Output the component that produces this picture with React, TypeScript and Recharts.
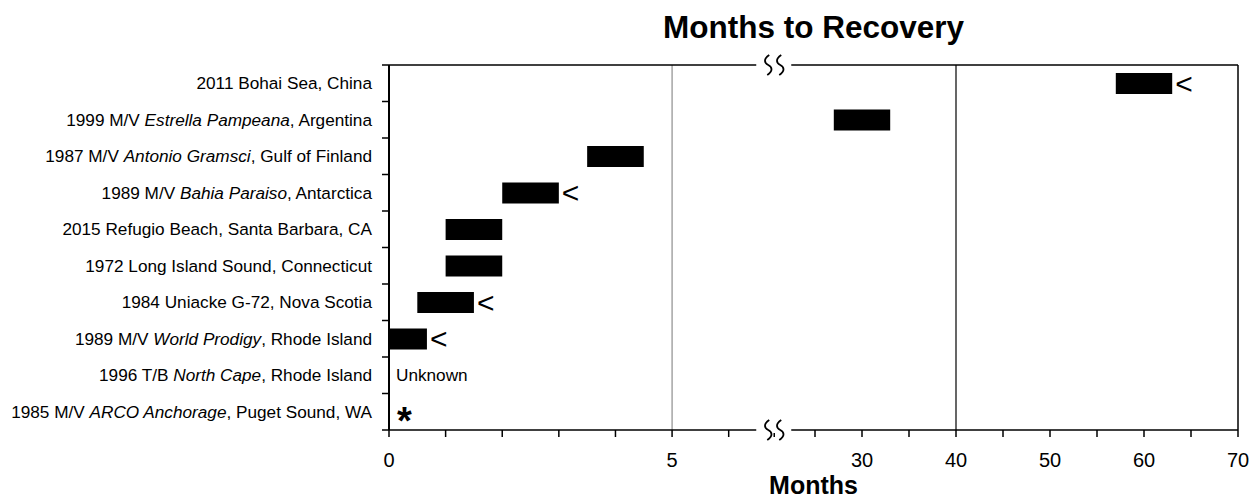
import { BarChart, Bar, XAxis, YAxis, ReferenceLine, ReferenceDot, LabelList } from "recharts";

// spills, top row first
const EVENTS = [
  "2011 Bohai Sea, China",
  "1999 M/V Estrella Pampeana, Argentina",
  "1987 M/V Antonio Gramsci, Gulf of Finland",
  "1989 M/V Bahia Paraiso, Antarctica",
  "2015 Refugio Beach, Santa Barbara, CA",
  "1972 Long Island Sound, Connecticut",
  "1984 Uniacke G-72, Nova Scotia",
  "1989 M/V World Prodigy, Rhode Island",
  "1996 T/B North Cape, Rhode Island",
  "1985 M/V ARCO Anchorage, Puget Sound, WA",
];
// vessel names set in italics
const ITALIC_NAMES = [
  "",
  "Estrella Pampeana",
  "Antonio Gramsci",
  "Bahia Paraiso",
  "",
  "",
  "",
  "World Prodigy",
  "North Cape",
  "ARCO Anchorage",
];
// recovery window in months (null = no bar)
const RECOVERY_FROM = [57, 27, 3.5, 2, 1, 1, 0.5, 0, null, null];
const RECOVERY_TO = [63, 33, 4.5, 3, 2, 2, 1.5, 0.67, null, null];
// "<" : recovery was reached before this time
const LESS_THAN = [true, false, false, true, false, false, true, true, false, false];
const NOTES = ["", "", "", "", "", "", "", "", "Unknown", "*"];

const MAJOR_TICKS = [0, 5, 30, 40, 50, 60, 70];
const MINOR_TICKS = [1, 2, 3, 4, 6, 25, 35, 45, 55, 65];

const FONT = "'Liberation Sans', Arial, Helvetica, sans-serif";
const W = 1252;
const H = 498;
const TOP = 64;
const LEFT = 389;
const RIGHT = 14;
const X_AXIS_H = 68;
const PLOT_H = H - TOP - 1 - X_AXIS_H;
const BAND = PLOT_H / EVENTS.length;
const Y_TICK = 7;
const Y_GAP = 10;
const X_TICK = 7;

// broken axis: months -> axis units; 0–6.5 stretched, 22.5–70 compressed
const SEG_MONTHS = [0, 6.5, 22.5, 70];
const SEG_UNITS = [0, 368, 402.5, 849];

function toAxis(m: number) {
  for (let i = 1; i < SEG_MONTHS.length; i++) {
    if (m <= SEG_MONTHS[i] || i === SEG_MONTHS.length - 1) {
      const t = (m - SEG_MONTHS[i - 1]) / (SEG_MONTHS[i] - SEG_MONTHS[i - 1]);
      return SEG_UNITS[i - 1] + t * (SEG_UNITS[i] - SEG_UNITS[i - 1]);
    }
  }
  return 0;
}

const BREAK_AT = (SEG_UNITS[1] + SEG_UNITS[2]) / 2;
const same = (a: number, b: number) => Math.abs(a - b) < 0.01;

const data = EVENTS.map((name, i) => {
  const from = RECOVERY_FROM[i];
  const to = RECOVERY_TO[i];
  return {
    name,
    range: from != null && to != null ? [toAxis(from), toAxis(to)] : null,
  };
});

// gap in an axis line with two wavy strokes
function BreakMark({ x, y }: { x: number; y: number }) {
  const wave = (cx: number) =>
    `M${cx + 1},${y - 10} C${cx - 5},${y - 6} ${cx - 4},${y - 2} ${cx},${y} C${cx + 4},${y + 2} ${cx + 5},${y + 6} ${cx - 1},${y + 10}`;
  return (
    <g>
      <rect x={x - 18} y={y - 3} width={35} height={6} fill="#fff" />
      <path d={wave(x - 6)} fill="none" stroke="#000" strokeWidth={1.8} />
      <path d={wave(x + 6)} fill="none" stroke="#000" strokeWidth={1.8} />
    </g>
  );
}

function MonthTick(props: any) {
  const { x, y, payload } = props;
  const v = payload.value;
  if (same(v, BREAK_AT)) {
    const axisY = y - X_TICK;
    return (
      <g>
        <BreakMark x={x} y={axisY} />
        <BreakMark x={x} y={axisY - PLOT_H} />
      </g>
    );
  }
  const m = MAJOR_TICKS.find((t) => same(toAxis(t), v));
  if (m === undefined) return <g />;
  return (
    <text x={x} y={y + 30} textAnchor="middle" fontSize={20} fontFamily={FONT} fill="#000">
      {m}
    </text>
  );
}

function EventTick(props: any) {
  const { x, y, payload } = props;
  const name: string = payload.value;
  const i = EVENTS.indexOf(name);
  const it = ITALIC_NAMES[i] || "";
  const k = it ? name.indexOf(it) : -1;
  const axisX = x + Y_TICK + Y_GAP;
  const top = y - BAND / 2;
  return (
    <g>
      <line x1={axisX - Y_TICK} x2={axisX} y1={top} y2={top} stroke="#000" strokeWidth={1.5} />
      {i === EVENTS.length - 1 && (
        <line x1={axisX - Y_TICK} x2={axisX} y1={y + BAND / 2} y2={y + BAND / 2} stroke="#000" strokeWidth={1.5} />
      )}
      <text x={x} y={y} dy="0.36em" textAnchor="end" fontSize={17.2} fontFamily={FONT} fill="#000">
        {k >= 0 ? (
          <>
            {name.slice(0, k)}
            <tspan fontStyle="italic">{it}</tspan>
            {name.slice(k + it.length)}
          </>
        ) : (
          name
        )}
      </text>
    </g>
  );
}

function LessThanMark(props: any) {
  const { x, y, width, height, index } = props;
  if (!LESS_THAN[index]) return null;
  return (
    <text x={x + width + 3} y={y + height / 2} dy="0.34em" fontSize={30} fontFamily={FONT} fill="#000">
      {"<"}
    </text>
  );
}

function NoteShape(props: any) {
  const { cx, cy, note } = props;
  if (note === "*") {
    return (
      <text x={cx + 8} y={cy + 22} fontSize={38} fontWeight={700} fontFamily={FONT} fill="#000">
        *
      </text>
    );
  }
  return (
    <text x={cx + 7} y={cy} dy="0.36em" fontSize={17.2} fontFamily={FONT} fill="#000">
      {note}
    </text>
  );
}

export default function App() {
  const ticks = [...MAJOR_TICKS, ...MINOR_TICKS].map(toAxis).concat(BREAK_AT).sort((a, b) => a - b);
  return (
    <div style={{ position: "absolute", left: 0, top: 0, background: "#fff" }}>
      <BarChart
        width={W}
        height={H}
        data={data}
        layout="vertical"
        margin={{ top: TOP, right: RIGHT, left: 0, bottom: 0 }}
        style={{ fontFamily: FONT }}
      >
        <XAxis
          xAxisId="top"
          orientation="top"
          type="number"
          domain={[0, SEG_UNITS[SEG_UNITS.length - 1]]}
          height={1}
          tick={false}
          tickLine={false}
          axisLine={{ stroke: "#000", strokeWidth: 1.5 }}
          label={{ value: "Months to Recovery", position: "top", offset: 26, fontSize: 31.5, fontWeight: 700, fill: "#000" }}
        />
        <YAxis
          type="category"
          dataKey="name"
          width={LEFT}
          interval={0}
          tickSize={Y_TICK}
          tickMargin={Y_GAP}
          tickLine={false}
          tick={<EventTick />}
          axisLine={{ stroke: "#000", strokeWidth: 2 }}
        />
        <ReferenceLine x={toAxis(5)} stroke="#777" strokeWidth={1} />
        <ReferenceLine x={toAxis(40)} stroke="#000" strokeWidth={1.2} />
        <ReferenceLine x={toAxis(70)} stroke="#000" strokeWidth={1.5} />
        <Bar dataKey="range" fill="#000" barSize={21} isAnimationActive={false}>
          <LabelList dataKey="range" content={<LessThanMark />} />
        </Bar>
        {EVENTS.map((name, i) =>
          NOTES[i] ? (
            <ReferenceDot
              key={name}
              x={toAxis(0)}
              y={name}
              r={0}
              shape={(p: any) => <NoteShape {...p} note={NOTES[i]} />}
            />
          ) : null
        )}
        <XAxis
          type="number"
          dataKey="range"
          domain={[0, SEG_UNITS[SEG_UNITS.length - 1]]}
          allowDataOverflow
          ticks={ticks}
          interval={0}
          height={X_AXIS_H}
          tickSize={X_TICK}
          tickMargin={0}
          tick={<MonthTick />}
          axisLine={{ stroke: "#000", strokeWidth: 1.5 }}
          tickLine={{ stroke: "#000", strokeWidth: 1.5 }}
          label={{ value: "Months", position: "insideBottom", offset: 4, fontSize: 25, fontWeight: 700, fill: "#000" }}
        />
      </BarChart>
    </div>
  );
}
